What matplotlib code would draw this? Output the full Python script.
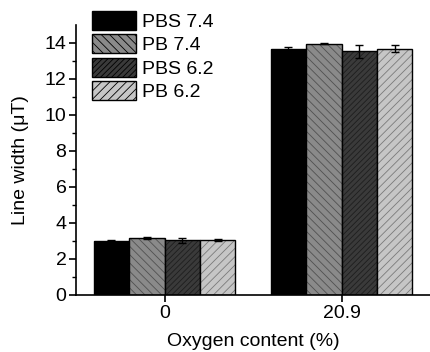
import numpy as np
import matplotlib
matplotlib.use("Agg")
import matplotlib.pyplot as plt
from matplotlib.patches import Patch

plt.rcParams['font.family'] = ['Liberation Sans', 'DejaVu Sans']
plt.rcParams['hatch.linewidth'] = 0.6

categories = ['0', '20.9']
series = ['PBS 7.4', 'PB 7.4', 'PBS 6.2', 'PB 6.2']
values = [[3.02, 13.65],
          [3.15, 13.97],
          [3.04, 13.54],
          [3.06, 13.69]]
errors = [[0.03, 0.12],
          [0.05, 0.04],
          [0.15, 0.37],
          [0.05, 0.18]]

fills = ['#000000', '#8a8a8a', '#3a3a3a', '#c6c6c6']
hatch_cols = ['#000000', '#505050', '#1e1e1e', '#7a7a7a']
hatches = ['', '\\\\\\\\', '//////', '////']

fig = plt.figure(figsize=(4.3, 3.52), dpi=100)
ax = fig.add_axes([0.177, 0.162, 0.823, 0.767])

x = np.arange(len(categories))
w = 0.2
for i, s in enumerate(series):
    pos = x + (i - 1.5) * w
    ax.bar(pos, values[i], w, color=fills[i], edgecolor=hatch_cols[i],
           hatch=hatches[i], linewidth=0)
    ax.bar(pos, values[i], w, fill=False, edgecolor='black', linewidth=1.0)
    ax.errorbar(pos, values[i], yerr=errors[i], fmt='none', ecolor='black',
                elinewidth=1.0, capsize=3, capthick=1.0)

ax.set_xlim(-0.5, 1.5)
ax.set_ylim(0, 15)
ax.set_yticks([0, 2, 4, 6, 8, 10, 12, 14])
ax.set_yticks(np.arange(1, 15, 2), minor=True)
ax.set_xticks(x)
ax.set_xticklabels(categories)
ax.spines['top'].set_visible(False)
ax.spines['right'].set_visible(False)
for sp in ['left', 'bottom']:
    ax.spines[sp].set_linewidth(1.2)
ax.tick_params(axis='both', which='major', labelsize=14, width=1.2, length=5, pad=2)
ax.tick_params(axis='y', which='minor', width=1.0, length=3)
ax.set_xlabel('Oxygen content (%)', fontsize=14, labelpad=8)
ax.set_ylabel('Line width (μT)', fontsize=14, labelpad=11)

handles = [Patch(facecolor=fills[i], edgecolor='black', hatch=hatches[i], linewidth=1.0)
           for i in range(len(series))]
leg = fig.legend(handles, series, loc='upper left', bbox_to_anchor=(0.214, 0.968),
                 frameon=False, fontsize=14, handlelength=2.27, handleheight=1.12,
                 labelspacing=0.16, handletextpad=0.3, borderpad=0, borderaxespad=0)

fig.savefig('out.png', dpi=100)
